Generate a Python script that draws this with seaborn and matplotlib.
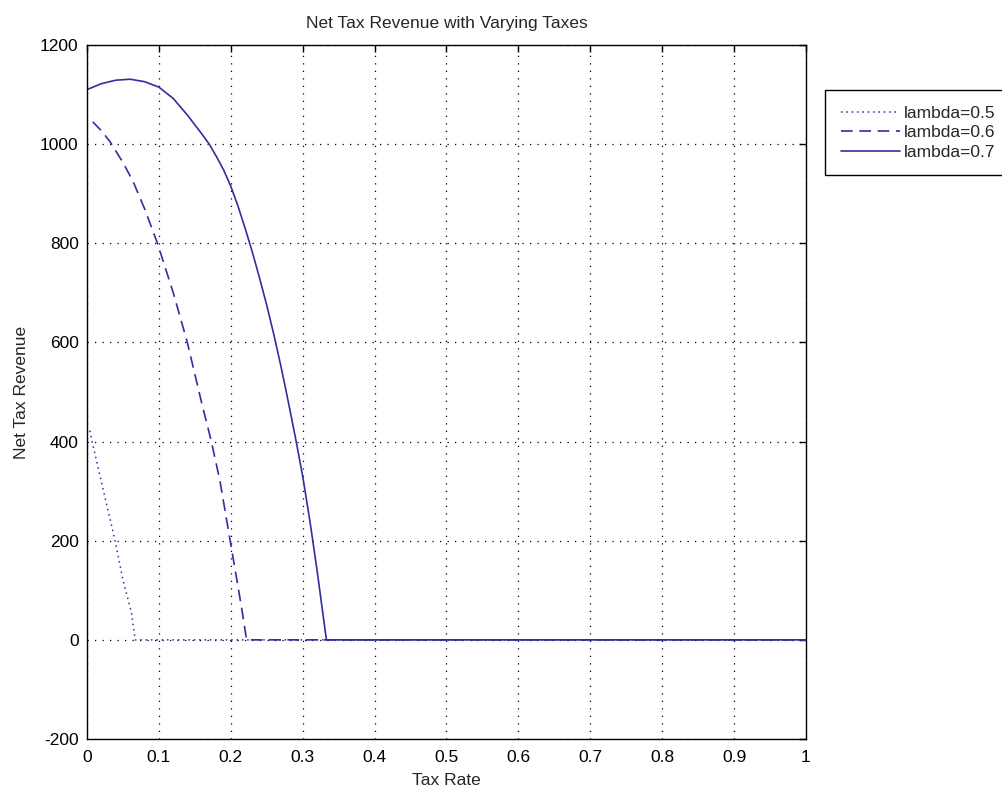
import numpy as np
import pandas as pd
import matplotlib
matplotlib.use("Agg")
import matplotlib.pyplot as plt
import seaborn as sns

# ---- data ----
x_l05 = [0.004, 0.007, 0.015, 0.023, 0.031, 0.039, 0.050, 0.062, 0.067, 0.10, 0.3, 0.5, 0.7, 1.0]
y_l05 = [422, 400, 350, 300, 250, 200, 121, 54, 0, 0, 0, 0, 0, 0]

x_l06 = [0.008, 0.02, 0.032, 0.05, 0.064, 0.08, 0.098, 0.12, 0.139, 0.16, 0.173, 0.185, 0.195,
         0.205, 0.215, 0.222, 0.3, 0.5, 0.7, 1.0]
y_l06 = [1045, 1027, 1005, 963, 925, 870, 800, 700, 603, 475, 400, 320, 235,
         150, 65, 0, 0, 0, 0, 0]

x_l07 = [0.0, 0.02, 0.04, 0.06, 0.08, 0.10, 0.12, 0.14, 0.16, 0.17, 0.18, 0.19, 0.20, 0.21,
         0.22, 0.23, 0.24, 0.25, 0.26, 0.27, 0.28, 0.29, 0.30, 0.31, 0.32, 0.333, 0.4, 0.6, 0.8, 1.0]
y_l07 = [1110, 1122, 1129, 1131, 1126, 1115, 1092, 1058, 1020, 1000, 975, 948, 915, 875,
         830, 782, 730, 675, 615, 550, 480, 407, 330, 240, 140, 0, 0, 0, 0, 0]

labels = ["lambda=0.5", "lambda=0.6", "lambda=0.7"]
x_ticks = [0, 0.1, 0.2, 0.3, 0.4, 0.5, 0.6, 0.7, 0.8, 0.9, 1]
x_ticklabels = ["0", "0.1", "0.2", "0.3", "0.4", "0.5", "0.6", "0.7", "0.8", "0.9", "1"]
y_ticks = [-200, 0, 200, 400, 600, 800, 1000, 1200]

sns.set_theme(style="white")
plt.rcParams['font.family'] = ['Liberation Sans', 'DejaVu Sans']
plt.rcParams['axes.unicode_minus'] = False

fig = plt.figure(figsize=(10.03, 7.87), dpi=100)
ax = fig.add_axes([87/1003, 1 - 739/787, (806-87)/1003, (739-45)/787])

color = "#2f2fa0"
df05 = pd.DataFrame({"x": x_l05, "y": y_l05})
df06 = pd.DataFrame({"x": x_l06, "y": y_l06})
df07 = pd.DataFrame({"x": x_l07, "y": y_l07})

sns.lineplot(data=df05, x="x", y="y", ax=ax, color=color, lw=1.1,
             linestyle=(0, (1, 2.5)), label=labels[0], sort=False, estimator=None)
sns.lineplot(data=df06, x="x", y="y", ax=ax, color=color, lw=1.2,
             linestyle=(0, (7, 4)), label=labels[1], sort=False, estimator=None)
sns.lineplot(data=df07, x="x", y="y", ax=ax, color=color, lw=1.2,
             linestyle="-", label=labels[2], sort=False, estimator=None)

ax.set_xlim(0, 1)
ax.set_ylim(-200, 1200)
ax.set_xticks(x_ticks)
ax.set_xticklabels(x_ticklabels)
ax.set_yticks(y_ticks)

ax.grid(True, color="black", linestyle=(0, (1, 5)), linewidth=0.9)
for s in ax.spines.values():
    s.set_color("black")
    s.set_linewidth(1.0)
ax.tick_params(direction="in", length=5, width=1, top=True, right=True,
               labelsize=12.5, colors="black", pad=6)
ax.tick_params(axis="x", pad=8)

ax.set_title("Net Tax Revenue with Varying Taxes", fontsize=12.5, pad=12)
ax.set_xlabel("Tax Rate", fontsize=12.5, labelpad=6)
ax.set_ylabel("Net Tax Revenue", fontsize=12.5, labelpad=8)

leg = ax.legend(loc="upper left", bbox_to_anchor=(825/1003, 1 - 90/787),
                bbox_transform=fig.transFigure, fontsize=12.5, frameon=True,
                fancybox=False, edgecolor="black", framealpha=1,
                handlelength=3.4, handletextpad=0.25, borderpad=0.9,
                labelspacing=0.25, borderaxespad=0)
leg.get_frame().set_linewidth(1.0)

fig.savefig("out.png", dpi=100)
